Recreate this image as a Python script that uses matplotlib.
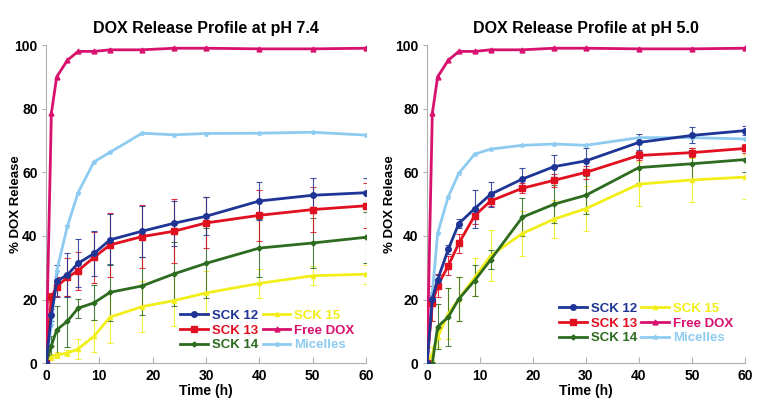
import matplotlib
matplotlib.use("Agg")
import matplotlib.pyplot as plt
import numpy as np

plt.rcParams['font.family'] = ['Liberation Sans', 'DejaVu Sans']

time_h = [0, 1, 2, 4, 6, 9, 12, 18, 24, 30, 40, 50, 60]
series_names = ["SCK 12", "SCK 13", "SCK 14", "SCK 15", "Free DOX", "Micelles"]

# pH 7.4
ph74_sck12 = [0, 15.2, 25.8, 27.8, 31.4, 34.5, 38.8, 41.5, 44.0, 46.2, 51.0, 52.8, 53.6]
ph74_sck12_err = [0, 2, 5, 7, 7.5, 7, 8, 8, 7, 6, 6, 5.5, 4.5]
ph74_sck13 = [0, 20.7, 24.1, 27.0, 29.1, 33.3, 37.2, 39.8, 41.5, 44.1, 46.5, 48.3, 49.5]
ph74_sck13_err = [0, 1.5, 3, 6, 6, 8, 10, 10, 10, 8, 8, 7, 7]
ph74_sck14 = [0, 5.5, 10.5, 13.2, 17.3, 19.0, 22.3, 24.3, 28.1, 31.4, 36.2, 37.8, 39.6]
ph74_sck14_err = [0, 3, 7.5, 8, 3, 5.5, 9, 9, 10, 11, 9, 8, 8]
ph74_sck15 = [0, 1.9, 2.6, 3.2, 4.5, 8.5, 14.5, 17.8, 19.7, 22.1, 25.1, 27.5, 28.0]
ph74_sck15_err = [0, 1, 1, 1, 3, 5, 8, 8, 8, 7, 4.5, 3, 3]
ph74_free = [0, 78.5, 90.0, 95.2, 98.0, 98.0, 98.5, 98.5, 99.0, 99.0, 98.8, 98.8, 99.0]
ph74_mic = [0, 12.0, 29.0, 43.0, 53.6, 63.3, 66.3, 72.3, 71.8, 72.2, 72.3, 72.6, 71.7]

# pH 5.0
ph50_sck12 = [0, 20.3, 26.2, 35.8, 43.9, 48.6, 53.1, 57.9, 61.8, 63.6, 69.4, 71.6, 73.1]
ph50_sck12_err = [0, 1, 1.5, 1.5, 1.5, 6, 4, 3.5, 3.5, 4, 2.5, 2.5, 1.5]
ph50_sck13 = [0, 18.8, 24.4, 30.6, 37.7, 46.4, 51.0, 55.0, 57.5, 60.0, 65.3, 66.2, 67.5]
ph50_sck13_err = [0, 5.5, 3.5, 3, 3, 2.5, 1.5, 1.5, 2, 2, 1.5, 1.5, 1.5]
ph50_sck14 = [0, 0, 11.5, 14.5, 20.2, 26.0, 32.5, 45.9, 50.0, 52.8, 61.5, 62.7, 64.0]
ph50_sck14_err = [0, 0.5, 7, 9, 7, 5, 3, 6, 6, 6, 5, 5, 4]
ph50_sck15 = [0, 3.0, 8.2, 15.5, 20.2, 27.0, 33.8, 40.8, 45.3, 48.6, 56.3, 57.6, 58.5]
ph50_sck15_err = [0, 2, 3, 8, 7, 6, 8, 7, 6, 7, 7, 7, 7]
ph50_free = [0, 78.5, 90.0, 95.2, 98.0, 98.0, 98.5, 98.5, 99.0, 99.0, 98.8, 98.8, 99.0]
ph50_mic = [0, 22.0, 40.8, 52.3, 59.7, 65.7, 67.3, 68.5, 68.9, 68.5, 70.9, 70.9, 70.5]

colors = ["#1f3596", "#e01020", "#2d6b1f", "#f2ee1a", "#d8106e", "#8ecbf0"]
markers = ["o", "s", "D", "^", "^", "*"]
msizes = [4, 4.5, 2.5, 3, 3.5, 3.5]

fig = plt.figure(figsize=(7.62, 4.08), dpi=100)
ax1 = fig.add_axes([0.0604, 0.1096, 0.420, 0.780])
ax2 = fig.add_axes([0.5604, 0.1096, 0.417, 0.780])

panels = [
    (ax1, "DOX Release Profile at pH 7.4",
     [ph74_sck12, ph74_sck13, ph74_sck14, ph74_sck15, ph74_free, ph74_mic],
     [ph74_sck12_err, ph74_sck13_err, ph74_sck14_err, ph74_sck15_err, None, None],
     (0.419, 0.169), -0.075),
    (ax2, "DOX Release Profile at pH 5.0",
     [ph50_sck12, ph50_sck13, ph50_sck14, ph50_sck15, ph50_free, ph50_mic],
     [ph50_sck12_err, ph50_sck13_err, ph50_sck14_err, ph50_sck15_err, None, None],
     (0.415, 0.191), -0.097),
]

for ax, title, ys, errs, legpos, ylx in panels:
    order = [5, 4, 3, 2, 1, 0]
    lines = {}
    for i in order:
        if errs[i] is not None:
            ax.errorbar(time_h, ys[i], yerr=errs[i], fmt='none', ecolor=colors[i],
                        elinewidth=0.8, capsize=2, capthick=0.8, alpha=0.85, zorder=2)
        ln, = ax.plot(time_h, ys[i], color=colors[i], lw=2.0, marker=markers[i],
                      ms=msizes[i], mfc=colors[i], mec=colors[i], zorder=3,
                      label=series_names[i])
        lines[i] = ln
    ax.set_xlim(0, 60)
    ax.set_ylim(0, 100)
    ax.set_xticks([0, 10, 20, 30, 40, 50, 60])
    ax.set_yticks([0, 20, 40, 60, 80, 100])
    ax.set_title(title, fontsize=11.5, fontweight='bold', pad=9)
    ax.set_xlabel("Time (h)", fontsize=10, fontweight='bold', labelpad=1)
    ax.set_ylabel("% DOX Release", fontsize=9.5, fontweight='bold')
    ax.yaxis.set_label_coords(ylx, 0.5)
    for s in ['top', 'right']:
        ax.spines[s].set_visible(False)
    for s in ['left', 'bottom']:
        ax.spines[s].set_color('#b0b0b0')
        ax.spines[s].set_linewidth(0.8)
    ax.tick_params(axis='x', direction='in', length=4, color='#b0b0b0', labelsize=10, pad=4)
    ax.tick_params(axis='y', direction='out', length=3, color='#b0b0b0', labelsize=10, pad=3)
    for lab in ax.get_xticklabels() + ax.get_yticklabels():
        lab.set_fontweight('bold')
    hl = [lines[i] for i in range(6)]
    leg = ax.legend(hl, series_names, ncol=2, loc='upper left', bbox_to_anchor=legpos,
                    frameon=False, handlelength=2.1, handletextpad=0.3, columnspacing=0.35,
                    labelspacing=0.2, borderpad=0, borderaxespad=0,
                    prop={'weight': 'bold', 'size': 9.5})
    for t, c in zip(leg.get_texts(), colors):
        t.set_color(c)

fig.savefig("out.png", dpi=100)
